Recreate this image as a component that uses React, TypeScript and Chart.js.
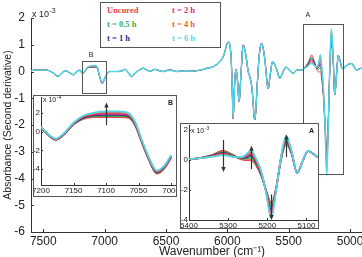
import React, { useEffect, useRef } from "react";
import { Chart, registerables } from "chart.js";

Chart.register(...registerables);

const NARROW = "'Liberation Sans Narrow', 'Arial Narrow', 'Liberation Sans', Arial, sans-serif";
const SANS = "'Liberation Sans', Arial, Helvetica, sans-serif";
const SERIF = "'Liberation Serif', 'Times New Roman', serif";
const INK = "#222";
const FRAME = "#555";

// Samples, oldest first
const seriesLabels = ["Uncured", "t = 0.5 h", "t = 1 h", "t = 2 h", "t = 4 h", "t = 6 h"];
const seriesColors = ["#e8414b", "#3dab4c", "#2b2e86", "#e02a7c", "#f0602c", "#4fd6ea"];

// Second-derivative spectrum (x10^-3) common to all samples outside bands A and B
const headWn = [7600, 7550, 7480, 7420, 7380, 7340, 7320, 7290, 7256, 7225];
const headAbs = [0.03, 0.06, 0.06, -0.05, -0.18, -0.02, 0.03, -0.03, -0.12, 0.0];

const midWn = [
  6980, 6957, 6900, 6860, 6835, 6805, 6780, 6750, 6726, 6685, 6655, 6631, 6590, 6555, 6525,
  6468, 6414, 6370, 6332, 6290, 6251, 6210, 6169, 6115, 6061, 6030, 5993, 5972, 5962, 5953,
  5942, 5930, 5918, 5904, 5890, 5871, 5855, 5844, 5830, 5817, 5800, 5776, 5755, 5740, 5721,
  5705, 5694, 5667, 5650, 5632, 5600, 5572, 5550, 5523, 5495, 5464, 5430,
];
const midAbs = [
  -0.08, 0.0, 0.0, 0.02, 0.08, -0.05, -0.19, -0.05, 0.03, 0.12, 0.05, 0.0, 0.08, 0.03, 0.0,
  0.06, 0.0, 0.02, 0.03, 0.01, 0.03, 0.06, 0.12, 0.18, 0.37, 0.6, 1.1, 0.7, -0.3, -1.75,
  -0.6, 0.08, -0.3, -1.13, -0.2, 0.99, 0.75, 0.45, 0.0, -0.2, -0.6, -1.8, -0.4, 0.6, 1.05,
  0.8, 0.43, -0.63, -0.1, 0.37, 0.1, -0.25, -0.05, 0.16, 0.05, -0.07, 0.06,
];

const tailWn = [5040, 4988, 4948, 4907, 4880];
const tailAbs = [0.18, 0.3, 0.06, 0.12, 0.08];

// Band B (x10^-4), one row per sample
const bandBWn = [7200, 7190, 7177, 7165, 7150, 7135, 7120, 7100, 7080, 7065, 7055, 7045, 7035, 7022, 7010, 7000];
const bandBUncured = [0.45, -0.3, -0.9, -0.35, 0.75, 1.35, 1.55, 1.55, 1.55, 1.45, 0.6, -1.2, -2.9, -4.5, -3.9, -2.8];
const bandB05h = [0.46, -0.28, -0.87, -0.32, 0.79, 1.42, 1.64, 1.66, 1.66, 1.55, 0.7, -1.14, -2.84, -4.43, -3.84, -2.74];
const bandB1h = [0.47, -0.26, -0.84, -0.29, 0.83, 1.49, 1.73, 1.78, 1.78, 1.65, 0.78, -1.08, -2.78, -4.36, -3.78, -2.68];
const bandB2h = [0.48, -0.24, -0.81, -0.26, 0.87, 1.56, 1.82, 1.92, 1.9, 1.75, 0.85, -1.02, -2.72, -4.29, -3.72, -2.62];
const bandB4h = [0.49, -0.22, -0.78, -0.23, 0.91, 1.63, 1.91, 2.04, 2.03, 1.85, 0.93, -0.96, -2.66, -4.22, -3.66, -2.56];
const bandB6h = [0.5, -0.2, -0.75, -0.2, 0.95, 1.7, 2.0, 2.15, 2.15, 1.95, 1.0, -0.9, -2.6, -4.15, -3.6, -2.5];
const bandB = [bandBUncured, bandB05h, bandB1h, bandB2h, bandB4h, bandB6h];

// Band A (x10^-3), one row per sample
const bandAWn = [5400, 5370, 5340, 5313, 5290, 5268, 5255, 5242, 5228, 5215, 5203, 5190, 5178, 5165, 5152, 5138, 5124, 5110, 5096, 5082, 5068, 5055];
const bandAUncured = [0.03, 0.15, 0.35, 0.62, 0.38, 0.05, -0.02, 0.0, -0.4, -1.1, -2.0, -2.9, -1.9, 0.0, 1.05, 0.4, -0.85, -0.1, 0.6, 0.4, 0.15, 0.1];
const bandA05h = [0.03, 0.14, 0.32, 0.55, 0.34, 0.09, 0.08, 0.15, -0.3, -1.05, -2.05, -3.1, -1.95, 0.05, 1.15, 0.44, -0.86, -0.1, 0.6, 0.4, 0.15, 0.1];
const bandA1h = [0.04, 0.13, 0.3, 0.48, 0.3, 0.12, 0.16, 0.28, -0.2, -0.98, -2.1, -3.3, -2.0, 0.1, 1.27, 0.48, -0.86, -0.1, 0.6, 0.4, 0.15, 0.1];
const bandA2h = [0.04, 0.13, 0.27, 0.42, 0.27, 0.14, 0.23, 0.4, -0.12, -0.92, -2.12, -3.5, -2.03, 0.13, 1.38, 0.52, -0.87, -0.1, 0.6, 0.4, 0.15, 0.1];
const bandA4h = [0.05, 0.12, 0.25, 0.37, 0.24, 0.16, 0.3, 0.52, -0.04, -0.86, -2.16, -3.7, -2.07, 0.17, 1.5, 0.56, -0.87, -0.1, 0.6, 0.4, 0.15, 0.1];
const bandA6h = [0.05, 0.12, 0.22, 0.32, 0.22, 0.18, 0.35, 0.62, 0.05, -0.8, -2.2, -3.9, -2.1, 0.2, 1.6, 0.6, -0.88, -0.1, 0.6, 0.4, 0.15, 0.1];
const bandA = [bandAUncured, bandA05h, bandA1h, bandA2h, bandA4h, bandA6h];

// Axis ticks
const mainXTicks = [7500, 7000, 6500, 6000, 5500, 5000];
const mainYTicks = [-6, -5, -4, -3, -2, -1, 0, 1, 2];
const insetBXTicks = [7200, 7150, 7100, 7050, 7000];
const insetAXTicks = [5400, 5300, 5200, 5100];
const insetYTicks = [-4, -2, 0, 2];

// Zoomed regions marked on the full spectrum (wavenumber / absorbance x10^-3)
const zoomBoxes = [
  { name: "B", from: 7185, to: 6990, top: 0.39, bottom: -0.8, labelWn: 7111, labelAbs: 0.62 },
  { name: "A", from: 5385, to: 5059, top: 1.78, bottom: -3.83, labelWn: 5344, labelAbs: 2.11 },
];

// Trend arrows inside the insets
type Arrow = { x: number; from: number; to: number };
const arrowsB: Arrow[] = [{ x: 7100, from: 0.7, to: 3.1 }];
const arrowsA: Arrow[] = [
  { x: 5313, from: 1.33, to: -0.8 },
  { x: 5242, from: -0.6, to: 0.95 },
  { x: 5190, from: -2.3, to: -4.0 },
  { x: 5152, from: 0.2, to: 1.7 },
];

const pts = (wn: number[], v: number[], k = 1) => wn.map((w, i) => ({ x: w, y: v[i] * k }));

function drawExponent(ctx: CanvasRenderingContext2D, x: number, baseline: number, exp: string, size: number) {
  ctx.save();
  ctx.fillStyle = INK;
  ctx.textAlign = "left";
  ctx.textBaseline = "alphabetic";
  ctx.font = `${size}px ${SANS}`;
  ctx.fillText("x 10", x, baseline);
  const w = ctx.measureText("x 10").width;
  ctx.font = `${Math.round(size * 0.75)}px ${SANS}`;
  ctx.fillText(exp, x + w + 0.5, baseline - size * 0.45);
  ctx.restore();
}

function drawArrow(ctx: CanvasRenderingContext2D, xs: any, ys: any, a: Arrow) {
  const px = Math.round(xs.getPixelForValue(a.x)) + 0.5;
  const y0 = ys.getPixelForValue(a.from);
  const y1 = ys.getPixelForValue(a.to);
  const dir = Math.sign(y1 - y0);
  ctx.save();
  ctx.strokeStyle = "#333";
  ctx.fillStyle = "#333";
  ctx.lineWidth = 1.2;
  ctx.beginPath();
  ctx.moveTo(px, y0);
  ctx.lineTo(px, y1 - dir * 3);
  ctx.stroke();
  ctx.beginPath();
  ctx.moveTo(px, y1);
  ctx.lineTo(px - 2.2, y1 - dir * 5);
  ctx.lineTo(px + 2.2, y1 - dir * 5);
  ctx.closePath();
  ctx.fill();
  ctx.restore();
}

const inwardTicks = (len: number) => ({
  id: "inwardTicks",
  afterDatasetsDraw(chart: any) {
    const { ctx, chartArea: a, scales } = chart;
    const { x, y } = scales;
    ctx.save();
    ctx.strokeStyle = "#333";
    ctx.lineWidth = 1;
    ctx.beginPath();
    x.ticks.forEach((t: any) => {
      const p = Math.round(x.getPixelForValue(t.value)) + 0.5;
      ctx.moveTo(p, a.bottom);
      ctx.lineTo(p, a.bottom - len);
    });
    y.ticks.forEach((t: any) => {
      const p = Math.round(y.getPixelForValue(t.value)) + 0.5;
      ctx.moveTo(a.left, p);
      ctx.lineTo(a.left + len, p);
    });
    ctx.stroke();
    ctx.restore();
  },
});

const mainDeco = {
  id: "mainDeco",
  afterDraw(chart: any) {
    const { ctx, chartArea: a, scales } = chart;
    const { x, y } = scales;
    ctx.save();
    ctx.strokeStyle = FRAME;
    ctx.lineWidth = 1;
    ctx.fillStyle = INK;
    ctx.font = `7px ${SANS}`;
    ctx.textAlign = "center";
    ctx.textBaseline = "middle";
    zoomBoxes.forEach((b) => {
      const l = Math.round(x.getPixelForValue(b.from)) + 0.5;
      const r = Math.round(x.getPixelForValue(b.to)) + 0.5;
      const t = Math.round(y.getPixelForValue(b.top)) + 0.5;
      const btm = Math.round(y.getPixelForValue(b.bottom)) + 0.5;
      ctx.strokeRect(l, t, r - l, btm - t);
      ctx.fillText(b.name, x.getPixelForValue(b.labelWn), y.getPixelForValue(b.labelAbs));
    });
    ctx.restore();
    drawExponent(ctx, a.left + 1, a.top - 1, "-3", 9);
  },
};

const insetDeco = (tag: string, tagInset: number, exp: string, expBase: number, arrows: Arrow[]) => ({
  id: "insetDeco",
  afterDraw(chart: any) {
    const { ctx, chartArea: a, scales, width, height } = chart;
    const { x, y } = scales;
    arrows.forEach((ar) => drawArrow(ctx, x, y, ar));
    ctx.save();
    ctx.strokeStyle = FRAME;
    ctx.lineWidth = 1;
    ctx.strokeRect(0.5, 0.5, width - 1, height - 1);
    ctx.fillStyle = INK;
    ctx.font = `bold 7px ${SANS}`;
    ctx.textAlign = "right";
    ctx.textBaseline = "middle";
    ctx.fillText(tag, a.right - tagInset, 8);
    ctx.restore();
    drawExponent(ctx, a.left + 2, expBase, exp, 7);
  },
});

type AxisSpec = {
  xMin: number;
  xMax: number;
  yMin: number;
  yMax: number;
  xTicks: number[];
  yTicks: number[];
  yWidth: number;
  xHeight: number;
  pad: { top: number; right: number };
  tickFont: number;
  xPad: number;
  yPad: number;
};

function scalesFor(s: AxisSpec, titles?: { x: string; y: string }) {
  const border = { display: true, color: "#333", width: 1 };
  const grid = { drawOnChartArea: false, drawTicks: false };
  return {
    x: {
      type: "linear" as const,
      reverse: true,
      min: s.xMin,
      max: s.xMax,
      border,
      grid,
      afterBuildTicks: (sc: any) => {
        sc.ticks = s.xTicks.map((v) => ({ value: v }));
      },
      afterFit: (sc: any) => {
        sc.height = s.xHeight;
        sc.paddingLeft = 0;
        sc.paddingRight = 0;
      },
      ticks: {
        autoSkip: false,
        maxRotation: 0,
        padding: s.xPad,
        color: INK,
        font: { family: NARROW, size: s.tickFont },
        callback: (v: any) => String(v),
      },
      title: titles
        ? {
            display: true,
            text: titles.x,
            color: INK,
            font: { family: SANS, size: 12 },
            padding: { top: 0, bottom: 3 },
          }
        : { display: false },
    },
    y: {
      type: "linear" as const,
      min: s.yMin,
      max: s.yMax,
      border,
      grid,
      afterBuildTicks: (sc: any) => {
        sc.ticks = s.yTicks.map((v) => ({ value: v }));
      },
      afterFit: (sc: any) => {
        sc.width = s.yWidth;
        sc.paddingTop = 0;
        sc.paddingBottom = 0;
      },
      ticks: {
        padding: s.yPad,
        color: INK,
        font: { family: NARROW, size: s.tickFont },
        callback: (v: any) => String(v),
      },
      title: titles
        ? {
            display: true,
            text: titles.y,
            color: INK,
            font: { family: SANS, size: 10.5 },
            padding: { top: 2, bottom: 0 },
          }
        : { display: false },
    },
  };
}

// The last sample (t = 6 h) is drawn on top and slightly wider
function datasetsFor(rows: { x: number; y: number }[][], width: number, topWidth: number) {
  return rows.map((data, i) => ({
    label: seriesLabels[i],
    data,
    borderColor: seriesColors[i],
    backgroundColor: seriesColors[i],
    borderWidth: i === rows.length - 1 ? topWidth : width,
    pointRadius: 0,
    fill: false,
    cubicInterpolationMode: "monotone" as const,
    order: rows.length - i,
  }));
}

function baseOptions(scales: any, pad: { top: number; right: number }) {
  return {
    responsive: false,
    animation: false as const,
    devicePixelRatio: 1,
    events: [] as any[],
    layout: { padding: { top: pad.top, right: pad.right, left: 0, bottom: 0 } },
    plugins: { legend: { display: false }, tooltip: { enabled: false } },
    scales,
  };
}

export default function App() {
  const mainRef = useRef<HTMLCanvasElement>(null);
  const bRef = useRef<HTMLCanvasElement>(null);
  const aRef = useRef<HTMLCanvasElement>(null);

  useEffect(() => {
    const mainRows = seriesLabels.map((_, i) => [
      ...pts(headWn, headAbs),
      ...pts(bandBWn, bandB[i], 0.1),
      ...pts(midWn, midAbs),
      ...pts(bandAWn, bandA[i]),
      ...pts(tailWn, tailAbs),
    ]);

    const mainSpec: AxisSpec = {
      xMin: 4650,
      xMax: 7600,
      yMin: -6,
      yMax: 2,
      xTicks: mainXTicks,
      yTicks: mainYTicks,
      yWidth: 31,
      xHeight: 30,
      pad: { top: 18, right: 0 },
      tickFont: 12,
      xPad: 2,
      yPad: 6,
    };
    const main = new Chart(mainRef.current!, {
      type: "line",
      data: { datasets: datasetsFor(mainRows, 1.0, 1.5) },
      options: baseOptions(
        scalesFor(mainSpec, { x: "Wavenumber (cm\u207B\u00B9)", y: "Absorbance (Second derivative)" }),
        mainSpec.pad
      ) as any,
      plugins: [inwardTicks(3), mainDeco],
    });

    const bSpec: AxisSpec = {
      xMin: 6994,
      xMax: 7200,
      yMin: -5.7,
      yMax: 3.7,
      xTicks: insetBXTicks,
      yTicks: insetYTicks,
      yWidth: 8,
      xHeight: 12,
      pad: { top: 2, right: 2 },
      tickFont: 8,
      xPad: 1,
      yPad: 1,
    };
    const insetB = new Chart(bRef.current!, {
      type: "line",
      data: { datasets: datasetsFor(bandB.map((row) => pts(bandBWn, row)), 1.6, 1.8) },
      options: baseOptions(scalesFor(bSpec), bSpec.pad) as any,
      plugins: [inwardTicks(2), insetDeco("B", 2, "-4", 7, arrowsB)],
    });

    const aSpec: AxisSpec = {
      xMin: 5068,
      xMax: 5400,
      yMin: -4,
      yMax: 2.33,
      xTicks: insetAXTicks,
      yTicks: insetYTicks,
      yWidth: 9,
      xHeight: 9,
      pad: { top: 2, right: 0 },
      tickFont: 8,
      xPad: 1,
      yPad: 1,
    };
    const insetA = new Chart(aRef.current!, {
      type: "line",
      data: { datasets: datasetsFor(bandA.map((row) => pts(bandAWn, row)), 1.6, 1.8) },
      options: baseOptions(scalesFor(aSpec), aSpec.pad) as any,
      plugins: [inwardTicks(2), insetDeco("A", 5, "-3", 10, arrowsA)],
    });

    return () => {
      main.destroy();
      insetB.destroy();
      insetA.destroy();
    };
  }, []);

  const legendCell = (i: number, left: number, top: number) => (
    <div
      key={i}
      style={{
        position: "absolute",
        left,
        top,
        color: seriesColors[i],
        font: `bold 8.5px ${SERIF}`,
        lineHeight: "10px",
        whiteSpace: "nowrap",
      }}
    >
      {seriesLabels[i]}
    </div>
  );

  return (
    <div
      style={{
        position: "absolute",
        left: 0,
        top: 0,
        width: 362,
        height: 257,
        overflow: "hidden",
        background: "#fff",
      }}
    >
      <canvas ref={mainRef} width={393} height={262} style={{ position: "absolute", left: 0, top: 0 }} />
      <canvas
        ref={bRef}
        width={144}
        height={102}
        style={{ position: "absolute", left: 33, top: 95, background: "#fff" }}
      />
      <canvas
        ref={aRef}
        width={139}
        height={106}
        style={{ position: "absolute", left: 180, top: 123, background: "#fff" }}
      />
      <div
        style={{
          position: "absolute",
          left: 100,
          top: 2,
          width: 121,
          height: 46,
          boxSizing: "border-box",
          border: `1px solid ${FRAME}`,
          background: "#fff",
        }}
      >
        {legendCell(0, 6, 2)}
        {legendCell(1, 6, 16)}
        {legendCell(2, 6, 30)}
        {legendCell(3, 71, 2)}
        {legendCell(4, 71, 16)}
        {legendCell(5, 71, 30)}
      </div>
    </div>
  );
}
